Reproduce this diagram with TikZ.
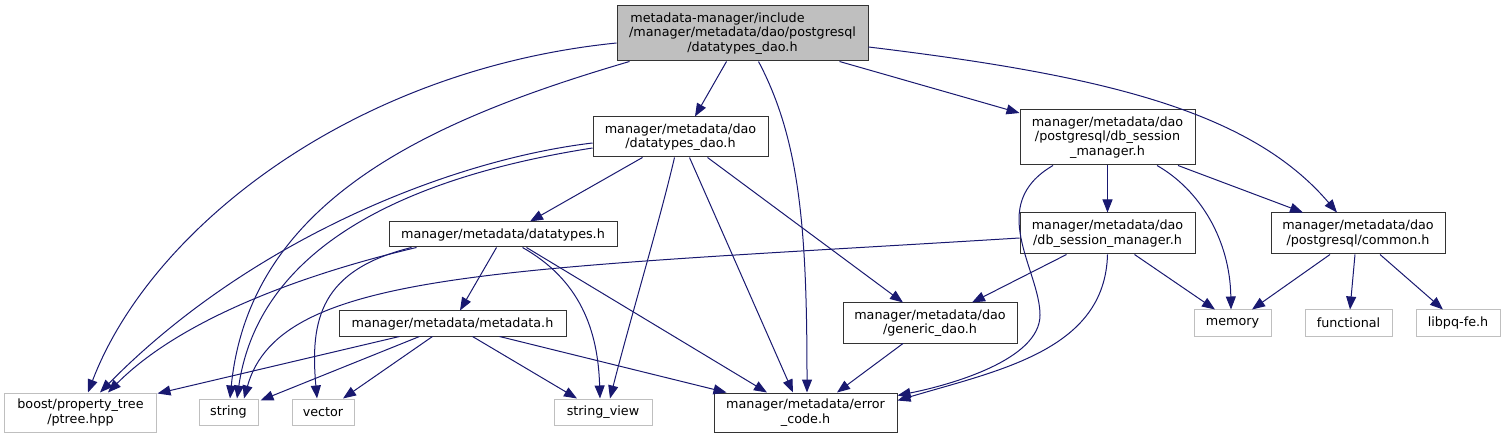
\documentclass[tikz,border=0pt]{standalone}
\usepackage{fontspec}
\setmainfont{DejaVu Sans}
\usetikzlibrary{arrows.meta,calc}
\definecolor{edgeblue}{HTML}{191970}
\definecolor{extgray}{HTML}{BFBFBF}
\begin{document}
\begin{tikzpicture}[x=1bp,y=-1bp,
  every node/.style={font=\fontsize{12.8}{14.7}\selectfont, align=center, inner sep=0pt},
  box/.style={draw=black!80, line width=1bp, fill=white},
  extbox/.style={draw=extgray, line width=1bp, fill=white},
  rootbox/.style={draw=black!80, line width=1bp, fill=extgray},
  dep/.style={draw=edgeblue, line width=1bp, -{Triangle[length=13bp,width=10bp]}}]
\useasboundingbox (0,0) rectangle (1505,439);

% nodes
\node[rootbox,minimum width=251bp,minimum height=55bp] (root) at (742.5,33.5) {metadata-manager/include\hspace{50bp}\mbox{}\\/manager/metadata/dao/postgresql\\/datatypes\_dao.h};
\node[box,minimum width=175bp,minimum height=40bp] (dtd) at (680.5,137) {manager/metadata/dao\\/datatypes\_dao.h};
\node[box,minimum width=175bp,minimum height=55bp] (pgdsm) at (1107.5,137.5) {manager/metadata/dao\\/postgresql/db\_session\\\_manager.h};
\node[box,minimum width=175bp,minimum height=41bp] (dsm) at (1107.5,233.5) {manager/metadata/dao\\/db\_session\_manager.h};
\node[box,minimum width=174bp,minimum height=41bp] (common) at (1358,233.5) {manager/metadata/dao\\/postgresql/common.h};
\node[box,minimum width=228bp,minimum height=25bp] (datatypes) at (503,234.5) {manager/metadata/datatypes.h};
\node[box,minimum width=227bp,minimum height=25bp] (metadata) at (452.5,323.5) {manager/metadata/metadata.h};
\node[box,minimum width=174bp,minimum height=40bp] (generic) at (930,323) {manager/metadata/dao\\/generic\_dao.h};
\node[box,minimum width=183bp,minimum height=39bp] (error) at (805.5,412.5) {manager/metadata/error\\\_code.h};
\node[extbox,minimum width=98bp,minimum height=26bp] (sview) at (603,412) {string\_view};
\node[extbox,minimum width=151bp,minimum height=39bp] (ptree) at (80.5,412.5) {boost/property\_tree\\/ptree.hpp};
\node[extbox,minimum width=59bp,minimum height=26bp] (string) at (228.5,412) {string};
\node[extbox,minimum width=62bp,minimum height=26bp] (vector) at (323,412) {vector};
\node[extbox,minimum width=77bp,minimum height=26bp] (memory) at (1232.5,323) {memory};
\node[extbox,minimum width=87bp,minimum height=26bp] (functional) at (1348.5,323) {functional};
\node[extbox,minimum width=84bp,minimum height=26bp] (libpq) at (1458,323) {libpq-fe.h};

% root edges
\draw[dep] ($(root.west)+(0,9.5)$) .. controls (350,70) and (150,230) .. ($(ptree.north)+(7.5,0)$);
\draw[dep] ($(root.south west)+(13,0)$) .. controls (430,120) and (250,200) .. ($(string.north)+(1.5,0)$);
\draw[dep] ($(root.south west)+(110,0)$) -- ($(dtd.north)+(14.5,0)$);
\draw[dep] ($(root.south west)+(142,0)$) .. controls (800,140) and (807,230) .. ($(error.north)+(1.5,0)$);
\draw[dep] ($(root.south west)+(223,0)$) -- ($(pgdsm.west)+(0,-24.5)$);
\draw[dep] ($(root.east)+(0,13.5)$) .. controls (1100,75) and (1250,110) .. ($(common.north)+(-21,0)$);

% datatypes_dao edges
\draw[dep] ($(dtd.west)+(0,6)$) .. controls (450,160) and (250,240) .. ($(ptree.north)+(19.5,0)$);
\draw[dep] ($(dtd.west)+(0,11)$) .. controls (420,175) and (260,240) .. ($(string.north)+(8.5,0)$);
\draw[dep] ($(dtd.south west)+(50,0)$) -- ($(datatypes.north)+(27,0)$);
\draw[dep] ($(dtd.south west)+(82,0)$) .. controls (660,220) and (630,320) .. ($(sview.north)+(7,0)$);
\draw[dep] ($(dtd.south west)+(97,0)$) -- ($(error.north)+(-12.5,0)$);
\draw[dep] ($(dtd.south west)+(115,0)$) -- ($(generic.north)+(-27,0)$);

% datatypes edges
\draw[dep] ($(datatypes.south west)+(28,0)$) .. controls (300,275) and (180,320) .. ($(ptree.north)+(27.5,0)$);
\draw[dep] ($(datatypes.south west)+(23,0)$) .. controls (320,270) and (310,320) .. ($(vector.north)+(-6,0)$);
\draw[dep] ($(datatypes.south west)+(108,0)$) -- ($(metadata.north)+(7.5,0)$);
\draw[dep] ($(datatypes.south west)+(134,0)$) .. controls (580,280) and (598,330) .. ($(sview.north)+(-3,0)$);
\draw[dep] ($(datatypes.south west)+(138,0)$) -- ($(error.north)+(-38.5,0)$);

% metadata edges
\draw[dep] ($(metadata.south west)+(61,0)$) -- ($(ptree.north east)+(1,1)$);
\draw[dep] ($(metadata.south west)+(81,0)$) -- ($(string.north east)+(2,2)$);
\draw[dep] ($(metadata.south west)+(94,0)$) -- ($(vector.north)+(20,0)$);
\draw[dep] ($(metadata.south west)+(134,0)$) -- ($(sview.north)+(-26,0)$);
\draw[dep] ($(metadata.south west)+(161,0)$) -- ($(error.north west)+(13,0)$);

% generic_dao
\draw[dep] ($(generic.south)+(-27,0)$) -- ($(error.north)+(31.5,0)$);

% postgresql db_session_manager
\draw[dep] (pgdsm.south) -- (dsm.north);
\draw[dep] ($(pgdsm.south)+(49.5,0)$) .. controls (1200,190) and (1230,240) .. ($(memory.north)+(-1.5,0)$);
\draw[dep] ($(pgdsm.south)+(70.5,0)$) -- ($(common.north)+(-55,0)$);
\draw[dep] ($(pgdsm.south)+(-54.5,0)$) .. controls (985,205) and (1040,270) .. (1040,315) .. controls (1040,360) and (950,385) .. ($(error.north east)+(0,3)$);

% dao db_session_manager
\draw[dep] ($(dsm.west)+(0,4.5)$) .. controls (500,270) and (280,270) .. ($(string.north)+(15.5,0)$);
\draw[dep] ($(dsm.south west)+(47,0)$) -- ($(generic.north)+(42,0)$);
\draw[dep] ($(dsm.south west)+(115,0)$) -- ($(memory.north)+(-17.5,0)$);
\draw[dep] (dsm.south) .. controls (1105,350) and (1000,370) .. ($(error.north east)+(0,8)$);

% common
\draw[dep] ($(common.south)+(-28,0)$) -- ($(memory.north)+(19.5,0)$);
\draw[dep] ($(common.south)+(-3,0)$) -- ($(functional.north)+(1.5,0)$);
\draw[dep] ($(common.south)+(22,0)$) -- ($(libpq.north)+(-15,0)$);
\end{tikzpicture}
\end{document}
